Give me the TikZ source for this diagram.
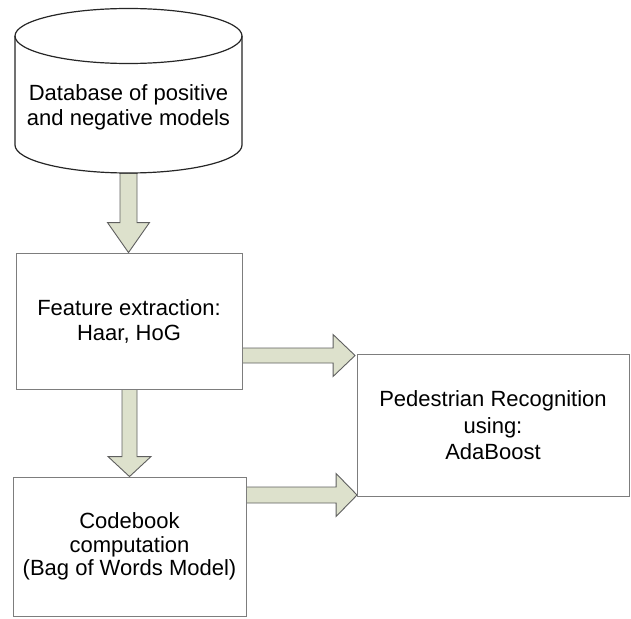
\documentclass[tikz,border=0pt]{standalone}
\usepackage{fontspec}
\setmainfont{Liberation Sans}
\usetikzlibrary{calc}
\definecolor{arrowfill}{RGB}{221,225,204}
\definecolor{arrowline}{RGB}{95,95,95}
\definecolor{boxline}{RGB}{125,125,125}
\tikzset{
  procbox/.style={draw=boxline, line width=0.9pt, fill=white, inner sep=0pt, align=center,
    font=\fontsize{22}{25}\selectfont},
  blockarrow/.style={draw=arrowline, fill=arrowfill, line width=0.9pt, line join=miter},
  dbline/.style={draw=black!85, line width=1.2pt, fill=white}
}
\newcommand\downarrowblock[5]{% from, tip, shaft half width, head half width, head length
  \draw[blockarrow] ($(#1)+(-#3,0)$) -- ($(#2)+(-#3,-#5)$) -- ($(#2)+(-#4,-#5)$) -- (#2)
    -- ($(#2)+(#4,-#5)$) -- ($(#2)+(#3,-#5)$) -- ($(#1)+(#3,0)$) -- cycle;}
\newcommand\rightarrowblock[5]{% from, tip, shaft half width, head half width, head length
  \draw[blockarrow] ($(#1)+(0,-#3)$) -- ($(#2)+(-#5,-#3)$) -- ($(#2)+(-#5,-#4)$) -- (#2)
    -- ($(#2)+(-#5,#4)$) -- ($(#2)+(-#5,#3)$) -- ($(#1)+(0,#3)$) -- cycle;}
\begin{document}
\begin{tikzpicture}[x=1pt,y=-1pt]
\useasboundingbox (0,0) rectangle (631,618);
% node frames (invisible for database)
\node[inner sep=0pt, minimum width=227pt, minimum height=165pt] (db) at (128.5,90.5) {};
\node[procbox, minimum width=226pt, minimum height=136pt] (fe) at (129,321) {};
\node[procbox, minimum width=233pt, minimum height=139pt] (cb) at (129.5,546.5) {};
\node[procbox, minimum width=272pt, minimum height=142pt] (pr) at (493,425.5) {};
% connectors (block arrows)
\coordinate (d1s) at (db.south);
\coordinate (d1t) at (db.south |- fe.north);
\downarrowblock{d1s}{d1t}{8.5}{21}{30}
\coordinate (d2s) at ($(fe.south)+(0.5,0)$);
\coordinate (d2t) at (d2s |- cb.north);
\downarrowblock{d2s}{d2t}{7.5}{21.5}{20}
\coordinate (r1s) at ($(fe.east)+(0,34.5)$);
\coordinate (r1t) at ($(pr.west |- r1s)+(-1.5,0)$);
\rightarrowblock{r1s}{r1t}{7.5}{21}{22}
\coordinate (r2s) at ($(cb.east)+(0,-51.5)$);
\coordinate (r2t) at ($(pr.west |- r2s)+(0.5,0)$);
\rightarrowblock{r2s}{r2t}{8}{21.5}{21}
% boxes drawn over arrow ends
\node[procbox, minimum width=226pt, minimum height=136pt] at (fe) {Feature extraction:\\Haar, HoG};
\node[procbox, minimum width=233pt, minimum height=139pt, font=\fontsize{22}{23.3}\selectfont] at (cb) {Codebook\\computation\\(Bag of Words Model)};
\node[procbox, minimum width=272pt, minimum height=142pt, font=\fontsize{22}{26.5}\selectfont] at (pr) {Pedestrian Recognition\\using:\\AdaBoost};
% database cylinder
\path[dbline] (15,36) -- (15,145) arc[start angle=180, end angle=360, x radius=113.5pt, y radius=28pt]
  -- (242,36) arc[start angle=0, end angle=180, x radius=113.5pt, y radius=27.5pt] -- cycle;
\draw[dbline, fill=none] (15,36) arc[start angle=180, end angle=360, x radius=113.5pt, y radius=27.5pt];
\node[align=center, inner sep=0pt, font=\fontsize{22}{25}\selectfont] at (128.5,107) {Database of positive\\and negative models};
\end{tikzpicture}
\end{document}
